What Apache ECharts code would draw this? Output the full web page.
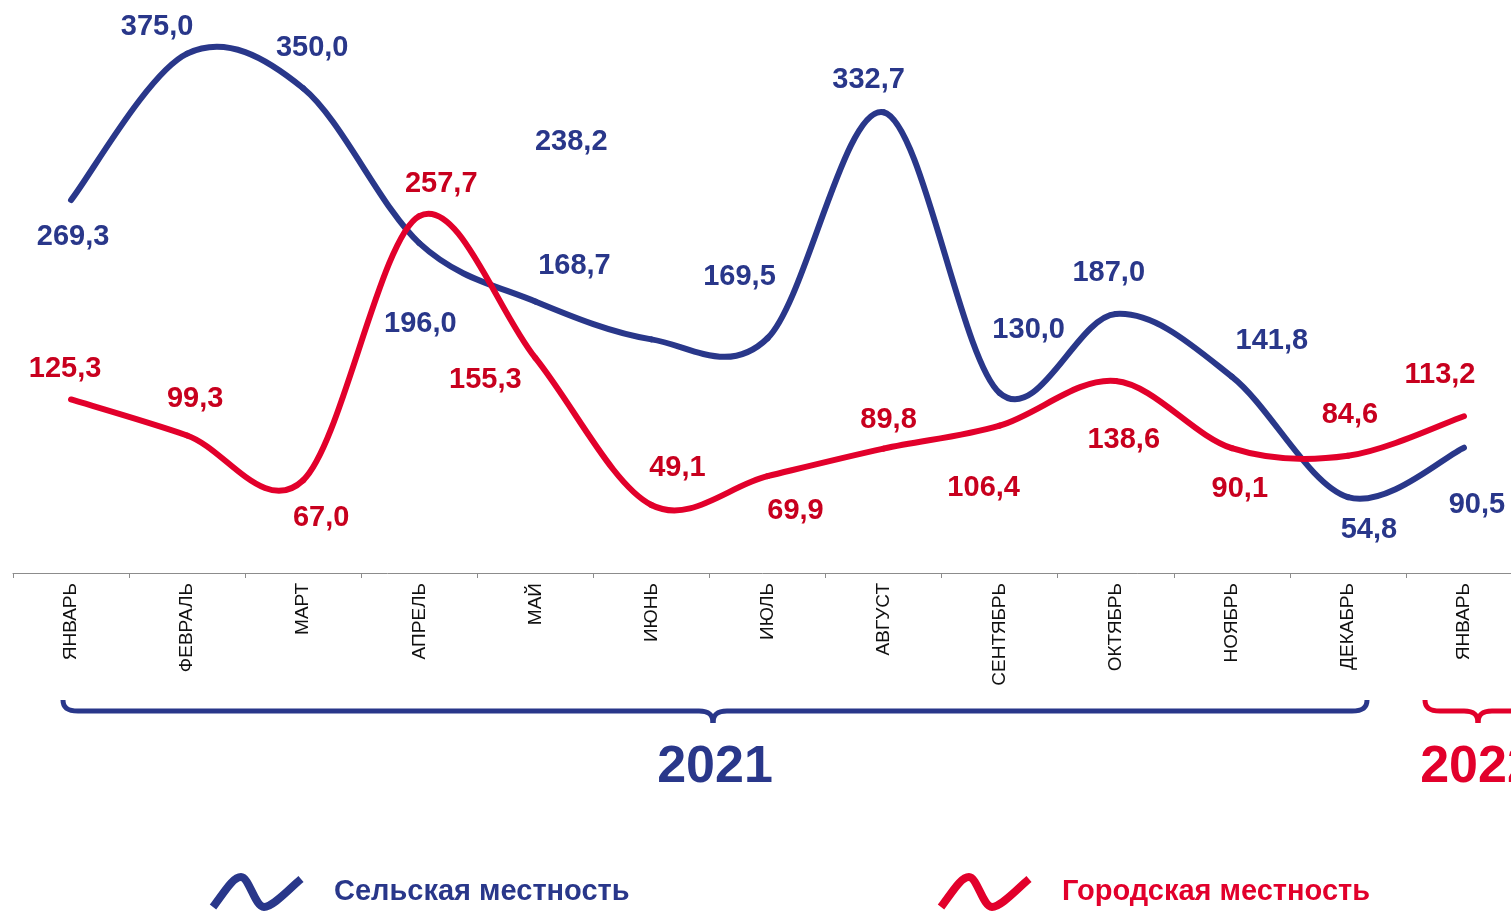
<!DOCTYPE html>
<html>
<head>
<meta charset="utf-8">
<script src="https://cdn.jsdelivr.net/npm/echarts@6/dist/echarts.min.js"></script>
<style>
  html, body { margin: 0; padding: 0; background: #fff; }
  #chart { width: 1511px; height: 911px; }
</style>
</head>
<body>
<div id="chart"></div>
<script>
// данные
const months = ['ЯНВАРЬ', 'ФЕВРАЛЬ', 'МАРТ', 'АПРЕЛЬ', 'МАЙ', 'ИЮНЬ', 'ИЮЛЬ', 'АВГУСТ', 'СЕНТЯБРЬ', 'ОКТЯБРЬ', 'НОЯБРЬ', 'ДЕКАБРЬ', 'ЯНВАРЬ']
const rural = [269.3, 375.0, 350.0, 238.2, 196.0, 168.7, 169.5, 332.7, 130.0, 187.0, 141.8, 54.8, 90.5]
const urban = [125.3, 99.3, 67.0, 257.7, 155.3, 49.1, 69.9, 89.8, 106.4, 138.6, 90.1, 84.6, 113.2]
const years = ['2021', '2022']
const seriesNames = ['Сельская местность', 'Городская местность']

// сдвиги подписей (px) относительно точки
const ruralLabelOffsets = [[2, 37], [-30, -27], [9, -40], [152, -101], [-115, 22], [-77, -73], [-28, -61], [-15, -32], [29, -63], [-7, -41], [40, -36], [21, 33], [13, 57]]
const urbanLabelOffsets = [[-6, -30], [8, -36], [18, 38], [22, -32], [-50, 22], [26, -37], [28, 35], [5, -29], [-16, 62], [8, 59], [8, 41], [2, -41], [-24, -41]]

const BLUE = '#29378a'
const RED = '#e2002b'
const RED_LABEL = '#c8001e'
const FONT = 'Arial, "Liberation Sans", sans-serif'

const fmt = v => v.toFixed(1).replace('.', ',')

// сглаженная линия как в Excel (Catmull-Rom, 1/6) + подпись точки
const smoothLine = (values, offsets, lineColor, labelColor) => (params, api) => {
  const n = values.length
  const i = params.dataIndex
  const pt = k => {
    const j = Math.max(0, Math.min(n - 1, k))
    return api.coord([j, values[j]])
  }
  const children = []
  if (i < n - 1) {
    const p0 = pt(i - 1)
    const p1 = pt(i)
    const p2 = pt(i + 1)
    const p3 = pt(i + 2)
    children.push({
      type: 'bezierCurve',
      shape: {
        x1: p1[0], y1: p1[1],
        cpx1: p1[0] + (p2[0] - p0[0]) / 6, cpy1: p1[1] + (p2[1] - p0[1]) / 6,
        cpx2: p2[0] - (p3[0] - p1[0]) / 6, cpy2: p2[1] - (p3[1] - p1[1]) / 6,
        x2: p2[0], y2: p2[1],
      },
      style: { stroke: lineColor, lineWidth: 6, fill: null, lineCap: 'round' },
    })
  }
  const c = pt(i)
  children.push({
    type: 'text',
    x: c[0] + offsets[i][0],
    y: c[1] + offsets[i][1],
    z2: 10,
    style: {
      text: fmt(api.value(1)),
      fill: labelColor,
      font: 'bold 29px ' + FONT,
      align: 'center',
      verticalAlign: 'middle',
    },
  })
  return { type: 'group', children }
}

// фигурная скобка
const brace = (xl, xr, xm, color) => {
  const y = 711
  const style = { stroke: color, lineWidth: 5, fill: null }
  return [
    { type: 'bezierCurve', shape: { x1: xl, y1: 700, cpx1: xl, cpy1: 708, cpx2: xl + 5, cpy2: y, x2: xl + 15, y2: y }, style },
    { type: 'line', shape: { x1: xl + 15, y1: y, x2: xm - 14, y2: y }, style },
    { type: 'bezierCurve', shape: { x1: xm - 14, y1: y, cpx1: xm - 5, cpy1: y, cpx2: xm, cpy2: y + 3, x2: xm, y2: y + 12 }, style },
    { type: 'bezierCurve', shape: { x1: xm, y1: y + 12, cpx1: xm, cpy1: y + 3, cpx2: xm + 5, cpy2: y, x2: xm + 14, y2: y }, style },
    { type: 'line', shape: { x1: xm + 14, y1: y, x2: xr - 15, y2: y }, style },
    { type: 'bezierCurve', shape: { x1: xr - 15, y1: y, cpx1: xr - 5, cpy1: y, cpx2: xr, cpy2: 708, x2: xr, y2: 700 }, style },
  ]
}

const waveIcon = 'path://M0,30 C12,14 20,0 28,0 C36,0 42,30 51,30 C60,30 76,12 88,2'

const legendItem = (name, color, left) => ({
  left,
  top: 868,
  icon: waveIcon,
  itemWidth: 88,
  itemHeight: 30,
  selectedMode: false,
  data: [{
    name,
    itemStyle: { color: 'transparent', borderColor: color, borderWidth: 8 },
    textStyle: { color },
  }],
  textStyle: {
    fontFamily: FONT,
    fontWeight: 'bold',
    fontSize: 29,
    padding: [0, 0, 0, 28],
  },
})

const chart = echarts.init(document.getElementById('chart'))

const option = {
  animation: false,
  backgroundColor: '#fff',
  grid: { left: 13, width: 1509, top: 19, bottom: 338, outerBoundsMode: 'none' },
  xAxis: {
    type: 'category',
    data: months,
    boundaryGap: true,
    axisLine: { lineStyle: { color: '#8c8c8c', width: 1 } },
    axisTick: { show: true, length: 5, lineStyle: { color: '#8c8c8c' } },
    axisLabel: {
      interval: 0,
      rotate: 90,
      margin: 10,
      color: '#111',
      fontFamily: FONT,
      fontSize: 19,
    },
  },
  yAxis: {
    type: 'value',
    min: 0,
    max: 400,
    show: false,
  },
  legend: [
    legendItem(seriesNames[0], BLUE, 204),
    legendItem(seriesNames[1], RED, 932),
  ],
  series: [
    {
      name: seriesNames[0],
      type: 'custom',
      itemStyle: { color: BLUE },
      encode: { x: 0, y: 1 },
      renderItem: smoothLine(rural, ruralLabelOffsets, BLUE, BLUE),
      data: rural.map((v, i) => [i, v]),
    },
    {
      name: seriesNames[1],
      type: 'custom',
      itemStyle: { color: RED },
      encode: { x: 0, y: 1 },
      renderItem: smoothLine(urban, urbanLabelOffsets, RED, RED_LABEL),
      data: urban.map((v, i) => [i, v]),
    },
  ],
  graphic: [
    ...brace(63, 1367, 713, BLUE),
    ...brace(1425, 1531, 1478, RED),
    {
      type: 'text',
      x: 715,
      y: 768,
      style: { text: years[0], fill: BLUE, font: 'bold 52px ' + FONT, align: 'center', verticalAlign: 'middle' },
    },
    {
      type: 'text',
      x: 1478,
      y: 768,
      style: { text: years[1], fill: RED, font: 'bold 52px ' + FONT, align: 'center', verticalAlign: 'middle' },
    },
  ],
}

chart.setOption(option)

window.addEventListener('resize', () => chart.resize())
</script>
</body>
</html>
